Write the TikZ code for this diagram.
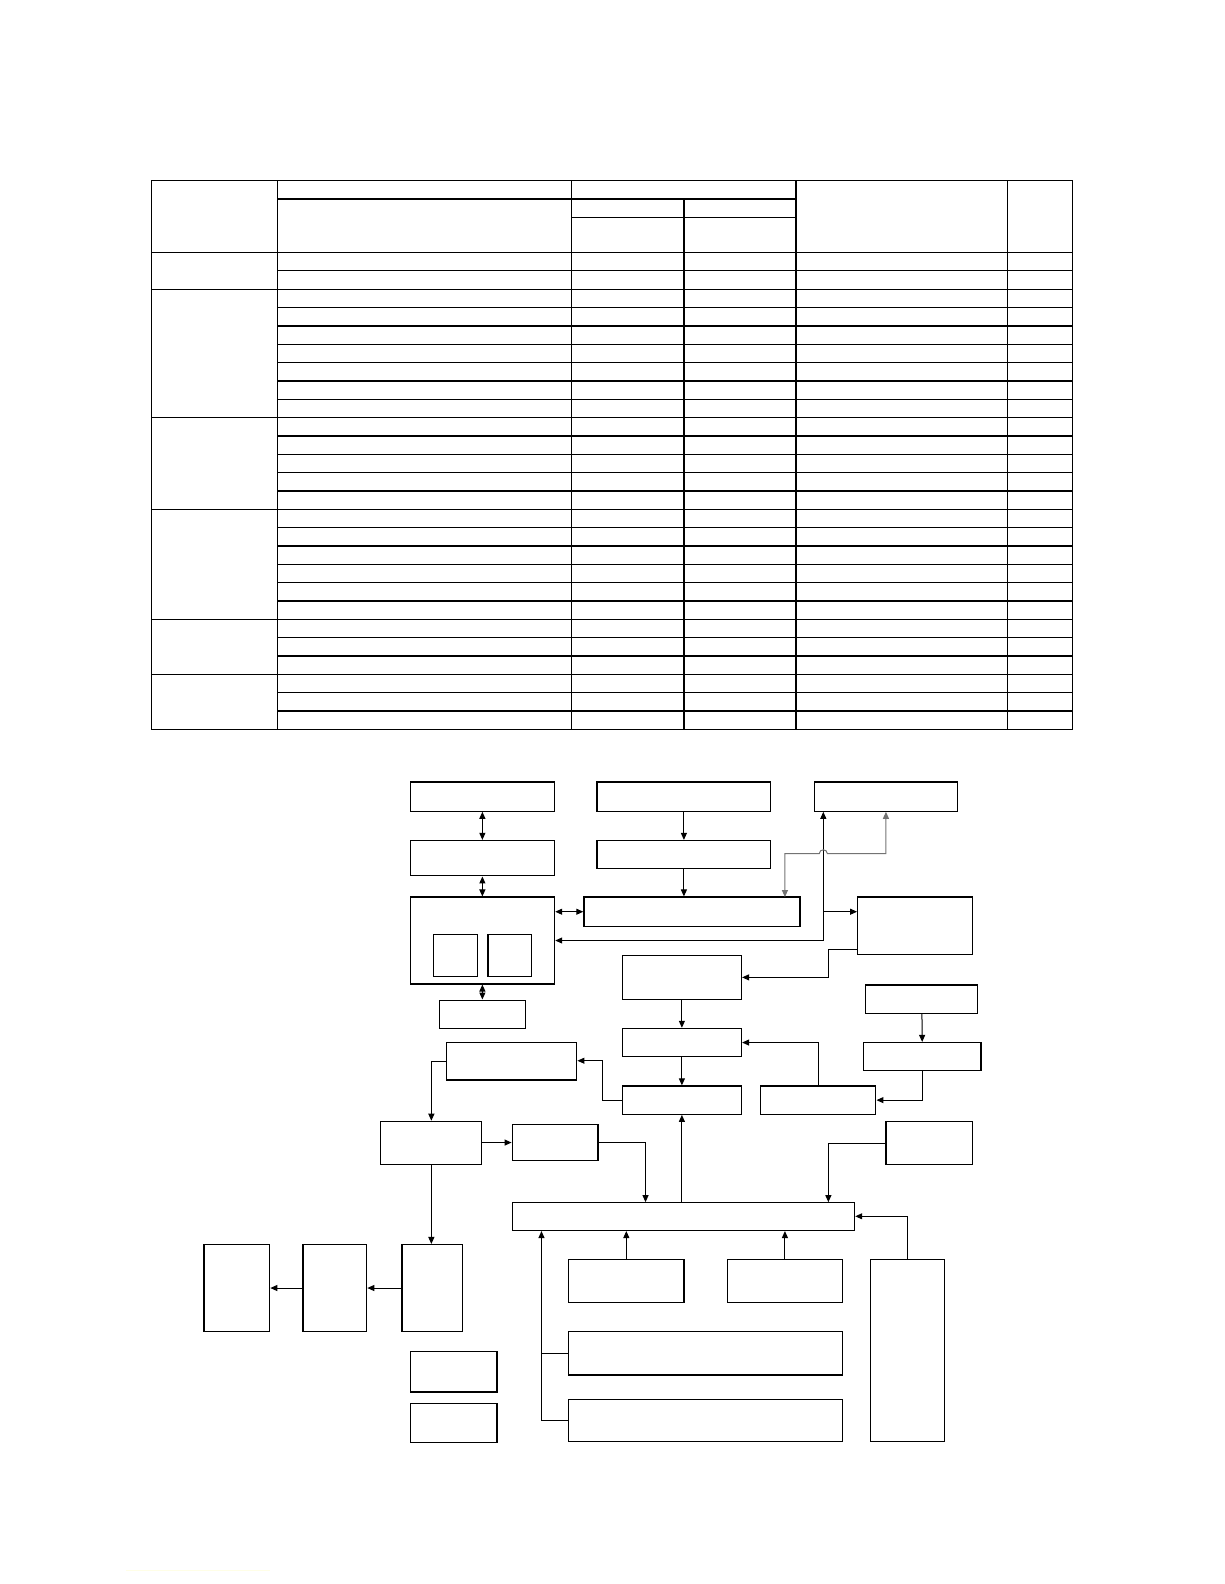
\documentclass[tikz,border=0pt]{standalone}
\usepackage{tikz}
\usetikzlibrary{arrows.meta}
\usetikzlibrary{fit}
\usetikzlibrary{calc}
\usetikzlibrary{math}
\tikzset{
  blk/.style={draw, line width=0.6pt, inner sep=0pt, fit={#1}},
  link/.style={draw, line width=0.5pt},
  rule/.style={draw, line width=0.6pt},
}

\begin{document}
\begin{tikzpicture}[
  x=0.505pt, y=-0.505pt,
  >={Triangle[length=3.5pt,width=3pt]},
]

  \useasboundingbox (0,0) rectangle (1212,1568);

  \tikzmath{
    \rowh = 18.154; % height of one table row
    \rowtop = 250;  % first body row
  }

  % Table frame and header
  \draw[rule] (150,179) rectangle (1062,722);
  \draw[rule] (150,250) -- (1062,250);
  \draw[rule] (275,197) -- (788,197);
  \draw[rule] (566,215) -- (788,215);
  \draw[rule] (275,179) -- (275,722);
  \draw[rule] (566,179) -- (566,722);
  \draw[rule] (677,197) -- (677,722);
  \draw[rule] (788,179) -- (788,722);
  \draw[rule] (997,179) -- (997,722);

  % Table rows
  \foreach \i in {1,...,25}
    \draw[rule] (275,{\rowtop+\i*\rowh}) -- (1062,{\rowtop+\i*\rowh});
  \foreach \i in {2,9,14,20,23}
    \draw[rule] (150,{\rowtop+\i*\rowh}) -- (275,{\rowtop+\i*\rowh});

  % Upper blocks
  \node[blk={(406,774) (549,803)}] (hostif) {};
  \node[blk={(591,774) (763,803)}] (clkin) {};
  \node[blk={(806,774) (948,803)}] (extmem) {};
  \node[blk={(406,832) (549,867)}] (hostbuf) {};
  \node[blk={(591,832) (763,860)}] (clkgen) {};
  \node[blk={(406,888) (549,974)}] (cpu) {};
  \node[blk={(429,925) (473,967)}] (cpul) {};
  \node[blk={(483,925) (526,967)}] (cpur) {};
  \node[blk={(578,888) (792,917)}] (sysbus) {};
  \node[blk={(849,888) (963,945)}] (memctl) {};
  \node[blk={(435,990) (520,1018)}] (debug) {};
  \node[blk={(616,946) (734,989)}] (timer) {};
  \node[blk={(857,975) (968,1003)}] (sensor) {};

  % Middle blocks
  \node[blk={(442,1032) (571,1069)}] (dspout) {};
  \node[blk={(616,1018) (734,1046)}] (ctrl) {};
  \node[blk={(855,1032) (971,1060)}] (adc) {};
  \node[blk={(616,1075) (734,1103)}] (core) {};
  \node[blk={(753,1075) (867,1103)}] (filt) {};
  \node[blk={(377,1110) (477,1153)}] (drv) {};
  \node[blk={(507,1113) (592,1149)}] (fb) {};
  \node[blk={(877,1110) (963,1153)}] (aux) {};
  \node[blk={(507,1190) (846,1218)}] (bus) {};

  % Lower blocks
  \node[blk={(202,1232) (267,1318)}] (load) {};
  \node[blk={(300,1232) (363,1318)}] (stage) {};
  \node[blk={(398,1232) (458,1318)}] (amp) {};
  \node[blk={(563,1247) (677,1289)}] (inA) {};
  \node[blk={(720,1247) (834,1289)}] (inB) {};
  \node[blk={(862,1247) (935,1427)}] (pwr) {};
  \node[blk={(563,1318) (834,1361)}] (portA) {};
  \node[blk={(563,1385) (834,1427)}] (portB) {};
  \node[blk={(406,1338) (492,1378)}] (spareA) {};
  \node[blk={(406,1389) (492,1428)}] (spareB) {};

  % Bend points
  \coordinate (jn)    at (815,931);
  \coordinate (gr)    at (877,845);
  \coordinate (bendc) at (820,940);
  \coordinate (bendg) at (596,1050);
  \coordinate (busl)  at (639,1190);
  \coordinate (busr)  at (820,1190);
  \coordinate (tap)   at (536,1406);

  % Upper links
  \draw[link,<->] (hostif) -- (hostbuf);
  \draw[link,<->] (hostbuf) -- (cpu);
  \draw[link,<->] (cpu) -- (debug);
  \draw[link,->] (clkin) -- (clkgen);
  \draw[link,->] (clkgen) -- (clkgen |- sysbus.north);
  \draw[link,<->] (cpu.east |- sysbus.west) -- (sysbus.west);
  \draw[link,->] (jn) -- (cpu.east |- jn);
  \draw[link,->] (jn) -- (jn |- extmem.south);
  \draw[link,->] (jn |- sysbus.east) -- (memctl.west |- sysbus.east);
  \draw[link,<->,black!55] (gr |- extmem.south) -- (gr) -- (819,845)
    .. controls (819,840) and (811,840) .. (811,845) -- (777,845) -- (777,888);
  \draw[link,->] (memctl.west |- bendc) -- (bendc) -- (bendc |- timer.east) -- (timer.east);

  % Middle links
  \draw[link,->] (timer) -- (ctrl);
  \draw[link,->] (ctrl) -- (core);
  \draw[link,->] (filt.north) |- (ctrl.east);
  \draw[link,->] (sensor) -- (adc);
  \draw[link,->] (adc.south) |- (filt.east);
  \draw[link,->] (core.west) -- (bendg |- core.west) -- (bendg) -- (dspout.east |- bendg);
  \draw[link,->] (dspout.west) -| (drv.north);
  \draw[link,->] (drv.east |- fb.west) -- (fb.west);
  \draw[link,->] (fb.east) -| (busl);
  \draw[link,->] (bus.north -| core) -- (core.south);
  \draw[link,->] (aux.west) -| (busr);

  % Lower links
  \draw[link,->] (pwr.north) |- (bus.east);
  \draw[link,->] (inA.north) -- (inA.north |- bus.south);
  \draw[link,->] (inB.north) -- (inB.north |- bus.south);
  \draw[link] (portA.west) -- (portA.west -| tap);
  \draw[link,->] (portB.west |- tap) -- (tap) -- (tap |- bus.south);
  \draw[link,->] (drv.south) -- (drv.south |- amp.north);
  \draw[link,->] (amp) -- (stage);
  \draw[link,->] (stage) -- (load);

  % Footer rule
  \draw[yellow!10, line width=0.6pt] (125,1555) -- (267,1555);

\end{tikzpicture}
\end{document}
